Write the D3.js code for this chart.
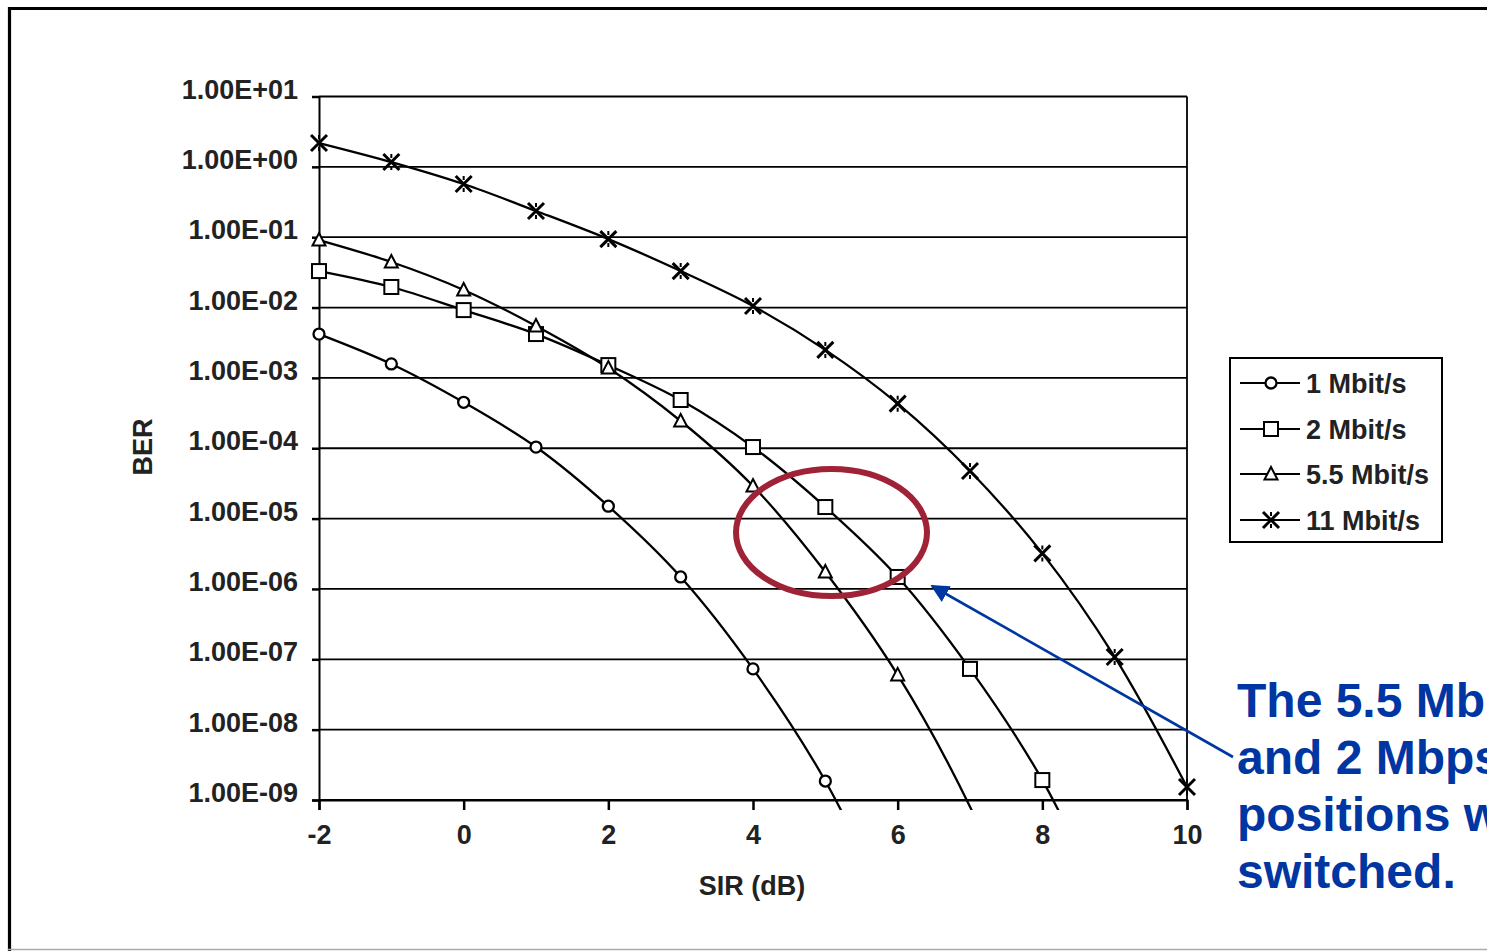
<!DOCTYPE html>
<html>
<head>
<meta charset="utf-8">
<script src="https://cdn.jsdelivr.net/npm/d3@7"></script>
<style>
  html, body { margin: 0; padding: 0; background: #fff; }
  svg { display: block; }
  text { font-family: Arial, "Liberation Sans", sans-serif; font-weight: bold; }
</style>
</head>
<body>
<svg id="chart" width="1487" height="951"></svg>
<script>
// SIR values (dB) and measured BER per data rate
const sir = [-2, -1, 0, 1, 2, 3, 4, 5, 6, 7, 8, 9, 10];
const ber1Mbit = [4.2e-3, 1.58e-3, 4.5e-4, 1.04e-4, 1.5e-5, 1.48e-6, 7.3e-8, 1.86e-9, 1.5e-11];
const ber2Mbit = [3.3e-2, 1.96e-2, 9.2e-3, 4.2e-3, 1.52e-3, 4.85e-4, 1.04e-4, 1.46e-5, 1.48e-6, 7.3e-8, 1.92e-9, 1.5e-11];
const ber55Mbit = [9.1e-2, 4.44e-2, 1.78e-2, 5.47e-3, 1.38e-3, 2.44e-4, 2.9e-5, 1.74e-6, 6.0e-8, 8e-10, 3e-12];
const ber11Mbit = [2.18, 1.17, 0.57, 0.236, 0.094, 0.033, 0.0105, 2.5e-3, 4.3e-4, 4.75e-5, 3.2e-6, 1.08e-7, 1.53e-9];

const seriesNames = ["1 Mbit/s", "2 Mbit/s", "5.5 Mbit/s", "11 Mbit/s"];
const seriesMarkers = ["circle", "square", "triangle", "star"];

const yTickValues = [1e1, 1e0, 1e-1, 1e-2, 1e-3, 1e-4, 1e-5, 1e-6, 1e-7, 1e-8, 1e-9];
const yTickLabels = ["1.00E+01", "1.00E+00", "1.00E-01", "1.00E-02", "1.00E-03", "1.00E-04",
                     "1.00E-05", "1.00E-06", "1.00E-07", "1.00E-08", "1.00E-09"];
const xTickValues = [-2, 0, 2, 4, 6, 8, 10];
const xTickLabels = ["-2", "0", "2", "4", "6", "8", "10"];

const noteLines = ["The 5.5 Mbps", "and 2 Mbps", "positions were", "switched."];

const svg = d3.select("#chart");
const W = 1487, H = 951;
const labelFont = "Arial, 'Liberation Sans', sans-serif";

svg.append("rect").attr("width", W).attr("height", H).attr("fill", "#fff");

// slide frame
svg.append("path")
  .attr("d", `M9.5,${H} L9.5,8.5 L${W + 5},8.5`)
  .attr("fill", "none").attr("stroke", "#000").attr("stroke-width", 3.2);
svg.append("line")
  .attr("x1", 8).attr("x2", W).attr("y1", 949.5).attr("y2", 949.5)
  .attr("stroke", "#aaa").attr("stroke-width", 1.5);

const x = d3.scaleLinear().domain([-2, 10]).range([319, 1187]);
const y = d3.scaleLog().domain([1e-9, 1e1]).range([800, 96.5]);

// horizontal gridlines, one per decade
svg.append("g").selectAll("line")
  .data(yTickValues)
  .join("line")
  .attr("x1", x(-2)).attr("x2", x(10))
  .attr("y1", d => y(d)).attr("y2", d => y(d))
  .attr("stroke", "#000").attr("stroke-width", 1.8);

// right border of plot
svg.append("line")
  .attr("x1", x(10)).attr("x2", x(10)).attr("y1", y(1e1)).attr("y2", y(1e-9))
  .attr("stroke", "#000").attr("stroke-width", 1.8);

// y axis
const yAxis = svg.append("g")
  .attr("transform", `translate(${x(-2)},0)`)
  .call(d3.axisLeft(y).tickValues(yTickValues)
    .tickFormat((d, i) => yTickLabels[i]).tickSize(7).tickPadding(14));
yAxis.select(".domain").attr("stroke", "#000").attr("stroke-width", 2);
yAxis.selectAll(".tick line").attr("stroke", "#000").attr("stroke-width", 2.5);
yAxis.selectAll(".tick text")
  .attr("font-size", 27).attr("fill", "#222").attr("dy", "0.06em")
  .attr("font-family", labelFont).attr("font-weight", "bold");

// x axis
const xAxis = svg.append("g")
  .attr("transform", `translate(0,${y(1e-9)})`)
  .call(d3.axisBottom(x).tickValues(xTickValues)
    .tickFormat((d, i) => xTickLabels[i]).tickSize(10).tickPadding(15));
xAxis.select(".domain").attr("stroke", "#000").attr("stroke-width", 2);
xAxis.selectAll(".tick line").attr("stroke", "#000").attr("stroke-width", 2.5);
xAxis.selectAll(".tick text")
  .attr("font-size", 27).attr("fill", "#222")
  .attr("font-family", labelFont).attr("font-weight", "bold");

// axis titles
svg.append("text")
  .attr("x", 752).attr("y", 895).attr("text-anchor", "middle")
  .attr("font-size", 27).attr("fill", "#222").text("SIR (dB)");
svg.append("text")
  .attr("transform", "translate(152,447) rotate(-90)")
  .attr("text-anchor", "middle")
  .attr("font-size", 27).attr("fill", "#222").text("BER");

// curves
const defs = svg.append("defs");
defs.append("clipPath").attr("id", "plotClip")
  .append("rect").attr("x", 300).attr("y", 0).attr("width", 900).attr("height", 810);

const series = [ber1Mbit, ber2Mbit, ber55Mbit, ber11Mbit].map((vals, k) => ({
  name: seriesNames[k],
  marker: seriesMarkers[k],
  points: vals.map((v, i) => ({ sir: sir[i], ber: v }))
}));

const line = d3.line()
  .x(d => x(d.sir)).y(d => y(d.ber))
  .curve(d3.curveCatmullRom.alpha(0.5));

const curves = svg.append("g").attr("clip-path", "url(#plotClip)");
curves.selectAll("path")
  .data(series)
  .join("path")
  .attr("d", d => line(d.points))
  .attr("fill", "none").attr("stroke", "#000").attr("stroke-width", 2.3);

function drawMarker(g, type) {
  if (type === "circle") {
    g.append("circle").attr("r", 5.5)
      .attr("fill", "#fff").attr("stroke", "#000").attr("stroke-width", 2.3);
  } else if (type === "square") {
    g.append("rect").attr("x", -7).attr("y", -7).attr("width", 14).attr("height", 14)
      .attr("fill", "#fff").attr("stroke", "#000").attr("stroke-width", 2);
  } else if (type === "triangle") {
    g.append("path").attr("d", "M0,-7 L6.5,5.5 L-6.5,5.5 Z")
      .attr("fill", "#fff").attr("stroke", "#000").attr("stroke-width", 2);
  } else {
    g.append("path").attr("d", "M-8,-8 L8,8 M-8,8 L8,-8")
      .attr("fill", "none").attr("stroke", "#000").attr("stroke-width", 3);
    g.append("path").attr("d", "M0,-8 L0,-4 M0,4 L0,8")
      .attr("fill", "none").attr("stroke", "#000").attr("stroke-width", 2);
  }
}

series.forEach(s => {
  const visible = s.points.filter(p => p.ber >= 1e-9);
  const mg = svg.append("g");
  visible.forEach(p => {
    const g = mg.append("g").attr("transform", `translate(${x(p.sir)},${y(p.ber)})`);
    drawMarker(g, s.marker);
  });
});

// highlight ellipse
svg.append("ellipse")
  .attr("cx", 831.5).attr("cy", 532.5).attr("rx", 95.5).attr("ry", 63.5)
  .attr("fill", "none").attr("stroke", "#9f2236").attr("stroke-width", 6);

// callout arrow
const blue = "#0036a2";
defs.append("marker").attr("id", "arrowHead")
  .attr("viewBox", "0 0 10 10").attr("refX", 9).attr("refY", 5)
  .attr("markerWidth", 7).attr("markerHeight", 7).attr("markerUnits", "strokeWidth")
  .attr("orient", "auto")
  .append("path").attr("d", "M0,0 L10,5 L0,10 Z").attr("fill", blue);
svg.append("line")
  .attr("x1", 1233).attr("y1", 757).attr("x2", 932).attr("y2", 586)
  .attr("stroke", blue).attr("stroke-width", 2.6)
  .attr("marker-end", "url(#arrowHead)");

// legend
const legend = svg.append("g");
legend.append("rect")
  .attr("x", 1230).attr("y", 358).attr("width", 212).attr("height", 184)
  .attr("fill", "#fff").attr("stroke", "#000").attr("stroke-width", 2);
const rowY = [383, 429, 474, 520];
series.forEach((s, i) => {
  const r = legend.append("g").attr("transform", `translate(0,${rowY[i]})`);
  r.append("line").attr("x1", 1240).attr("x2", 1300).attr("y1", 0).attr("y2", 0)
    .attr("stroke", "#000").attr("stroke-width", 2);
  const mg = r.append("g").attr("transform", "translate(1271,0)");
  drawMarker(mg, s.marker);
  r.append("text").attr("x", 1306).attr("y", 9.5)
    .attr("font-size", 27).attr("fill", "#222").text(s.name);
});

// note text (runs past the right edge of the slide)
const note = svg.append("text")
  .attr("x", 1237).attr("fill", blue).attr("font-size", 48);
noteLines.forEach((t, i) => {
  note.append("tspan").attr("x", 1237).attr("y", 717 + i * 57).text(t);
});
</script>
</body>
</html>
